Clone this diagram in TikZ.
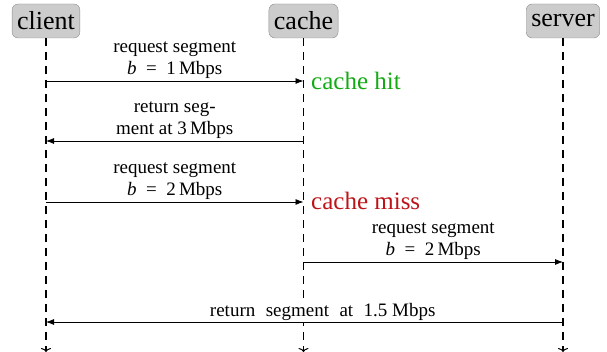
\documentclass[tikz,border=0pt]{standalone}
\usepackage{fontspec}
\setmainfont{Liberation Serif}
\usetikzlibrary{arrows.meta}
\definecolor{hitgreen}{RGB}{20,170,20}
\definecolor{missred}{RGB}{190,20,25}
\definecolor{actorfill}{RGB}{204,204,204}
\definecolor{actorline}{RGB}{140,140,140}
\begin{document}
\begin{tikzpicture}[x=1pt,y=-1pt,
  actor/.style={draw=actorline, fill=actorfill, rounded corners=6pt,
    minimum height=34pt, inner xsep=5pt,
    font=\fontsize{26}{30}\selectfont},
  lifeline/.style={line width=1.6pt, dash pattern=on 8pt off 6pt,
    -{To[length=4pt,width=10pt,line width=1pt]}},
  msg/.style={line width=0.8pt, -{Latex[length=8pt,width=6pt]}},
  lbl/.style={font=\fontsize{19}{22}\selectfont, align=center, above, inner sep=2pt},
  note/.style={font=\fontsize{25}{28}\selectfont, anchor=west, inner sep=0pt}]
\useasboundingbox (0,0) rectangle (607,352);

% participants
\node[actor] (client) at (46,21) {client};
\node[actor] (cache) at (303.5,21) {cache};
\node[actor] (server) at (563,21) {server};

% lifelines
\coordinate (clientend) at (46,352);
\coordinate (cacheend) at (303.5,352);
\coordinate (serverend) at (563,352);
\draw[lifeline] (client) -- (clientend);
\draw[lifeline] (cache) -- (cacheend);
\draw[lifeline] (server) -- (serverend);

% message end points on the lifelines
\coordinate (cl1) at (46,81);   \coordinate (ca1) at (303.5,81);
\coordinate (cl2) at (46,141);  \coordinate (ca2) at (303.5,141);
\coordinate (cl3) at (46,202);  \coordinate (ca3) at (303.5,202);
\coordinate (ca4) at (303.5,262); \coordinate (sv4) at (563,262);
\coordinate (cl5) at (46,322);  \coordinate (sv5) at (563,322);

% messages
\draw[msg] (cl1) -- node[lbl] {request segment\\ \textit{b}\ \ =\ \ 1\,Mbps} (ca1);
\draw[msg] (ca2) -- node[lbl] {return seg-\\ment at 3\,Mbps} (cl2);
\draw[msg] (cl3) -- node[lbl] {request segment\\ \textit{b}\ \ =\ \ 2\,Mbps} (ca3);
\draw[msg] (ca4) -- node[lbl] {request segment\\ \textit{b}\ \ =\ \ 2\,Mbps} (sv4);
\draw[msg] (sv5) -- node[lbl, pos=0.5, fill=white, text width=262pt, align=right,
  inner xsep=2pt, inner ysep=1pt, yshift=-0.4pt]
  {\spaceskip=0.55em return segment at 1.5\hspace{0.25em}Mbps} (cl5);

% cache outcomes
\node[note, text=hitgreen] (hit) at (311,81) {cache hit};
\node[note, text=missred] (miss) at (311,201) {cache miss};
\end{tikzpicture}
\end{document}
